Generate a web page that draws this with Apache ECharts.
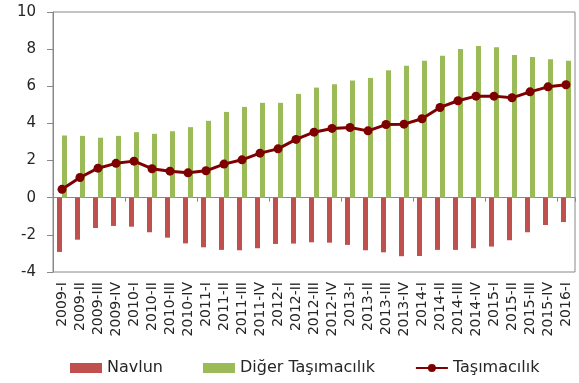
<!DOCTYPE html>
<html>
<head>
<meta charset="utf-8">
<script src="https://cdn.jsdelivr.net/npm/echarts@6/dist/echarts.min.js"></script>
<style>html,body{margin:0;padding:0;background:#fff;}#c{width:579px;height:383px;}</style>
</head>
<body>
<div id="c"></div>
<script>
const categories = ['2009-I','2009-II','2009-III','2009-IV','2010-I','2010-II','2010-III','2010-IV',
  '2011-I','2011-II','2011-III','2011-IV','2012-I','2012-II','2012-III','2012-IV',
  '2013-I','2013-II','2013-III','2013-IV','2014-I','2014-II','2014-III','2014-IV',
  '2015-I','2015-II','2015-III','2015-IV','2016-I'];
const navlun = [-2.92,-2.26,-1.63,-1.52,-1.56,-1.86,-2.15,-2.46,-2.67,-2.81,-2.83,-2.72,-2.49,-2.47,
  -2.40,-2.42,-2.54,-2.83,-2.94,-3.15,-3.14,-2.81,-2.81,-2.72,-2.63,-2.29,-1.86,-1.47,-1.31];
const diger = [3.35,3.33,3.23,3.33,3.53,3.44,3.58,3.80,4.14,4.62,4.89,5.11,5.11,5.59,
  5.93,6.11,6.31,6.45,6.86,7.11,7.37,7.65,8.01,8.17,8.10,7.69,7.58,7.46,7.38];
const tasimacilik = [0.45,1.09,1.59,1.85,1.97,1.56,1.43,1.34,1.45,1.81,2.04,2.40,2.63,3.14,
  3.53,3.73,3.78,3.60,3.94,3.96,4.25,4.86,5.22,5.47,5.47,5.38,5.70,5.97,6.08];
const yTicks = {min: -4, max: 10, interval: 2};

const font = 'DejaVu Sans';
const chart = echarts.init(document.getElementById('c'), null, {renderer: 'canvas'});
chart.setOption({
  animation: false,
  textStyle: {fontFamily: font},
  grid: {left: 53, top: 12, right: 4, bottom: 111, show: true, borderColor: '#888', borderWidth: 1,
    outerBoundsMode: 'none', containLabel: false},
  legend: {
    left: 65, top: 355, itemWidth: 32, itemHeight: 10, itemGap: 40,
    textStyle: {fontFamily: font, fontSize: 16, color: '#262626'},
    data: [
      {name: 'Navlun', icon: 'rect'},
      {name: 'Diğer Taşımacılık', icon: 'rect'},
      {name: 'Taşımacılık'}
    ]
  },
  xAxis: [
    {
      type: 'category', data: categories, position: 'bottom',
      axisLine: {show: false, onZero: false}, axisTick: {show: false},
      axisLabel: {rotate: 90, interval: 0, margin: 10, fontSize: 14, color: '#262626', fontFamily: font}
    },
    {
      type: 'category', data: categories, position: 'bottom',
      axisLine: {show: true, onZero: true, lineStyle: {color: '#888', width: 1}},
      axisTick: {show: true, length: 4, lineStyle: {color: '#888'}},
      axisLabel: {show: false}
    }
  ],
  yAxis: {
    type: 'value', min: yTicks.min, max: yTicks.max, interval: yTicks.interval,
    axisLine: {show: true, lineStyle: {color: '#888'}},
    axisTick: {show: true, length: 6, lineStyle: {color: '#888'}},
    splitLine: {show: false},
    axisLabel: {fontSize: 15, color: '#262626', margin: 17, fontFamily: font}
  },
  series: [
    {name: 'Navlun', type: 'bar', xAxisIndex: 0, data: navlun, barWidth: 5, barGap: '0%',
      itemStyle: {color: '#C0504D'}},
    {name: 'Diğer Taşımacılık', type: 'bar', xAxisIndex: 0, data: diger, barWidth: 5, barGap: '0%',
      itemStyle: {color: '#9BBB59'}},
    {name: 'Taşımacılık', type: 'line', xAxisIndex: 0, data: tasimacilik, symbol: 'circle', symbolSize: 9,
      z: 5, lineStyle: {color: '#7F0000', width: 3}, itemStyle: {color: '#7F0000'}}
  ]
});
</script>
</body>
</html>
